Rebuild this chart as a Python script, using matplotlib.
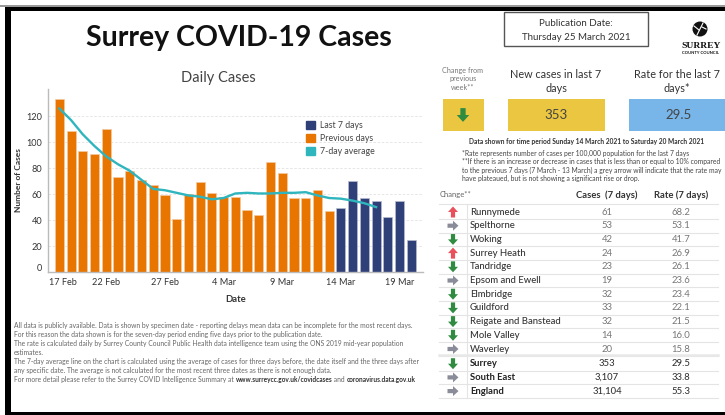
import matplotlib
matplotlib.use('Agg')
import matplotlib.pyplot as plt
import matplotlib.patches as mpatches
from matplotlib.transforms import ScaledTranslation

plt.rcParams['font.family'] = ['Lato', 'DejaVu Sans']

W, H = 725, 415

# daily cases, 18 Feb to 20 Mar
dates = ['18 Feb', '19 Feb', '20 Feb', '21 Feb', '22 Feb', '23 Feb', '24 Feb', '25 Feb', '26 Feb', '27 Feb', '28 Feb',
         '1 Mar', '2 Mar', '3 Mar', '4 Mar', '5 Mar', '6 Mar', '7 Mar', '8 Mar', '9 Mar', '10 Mar', '11 Mar', '12 Mar',
         '13 Mar', '14 Mar', '15 Mar', '16 Mar', '17 Mar', '18 Mar', '19 Mar', '20 Mar']
cases = [133, 109, 93, 91, 110, 73, 78, 71, 67, 59, 41, 60, 69, 61, 58, 58, 48, 44, 85, 76, 57, 57, 63, 47,
         49, 70, 57, 55, 42, 55, 25]
avg7 = [126, 117, 106, 97, 89, 83, 78, 71, 64, 63, 61, 59, 58, 56, 57, 60.5, 61, 60.5, 60.5, 61, 61, 61.5, 59, 57,
        56.5, 55, 53, 50]
last7 = 7
yticks = [0, 20, 40, 60, 80, 100, 120]

# table
areas = ['Runnymede', 'Spelthorne', 'Woking', 'Surrey Heath', 'Tandridge', 'Epsom and Ewell', 'Elmbridge',
         'Guildford', 'Reigate and Banstead', 'Mole Valley', 'Waverley']
area_change = ['up', 'same', 'down', 'up', 'down', 'same', 'down', 'down', 'down', 'down', 'same']
area_cases = ['61', '53', '42', '24', '23', '19', '32', '33', '32', '14', '20']
area_rate = ['68.2', '53.1', '41.7', '26.9', '26.1', '23.6', '23.4', '22.1', '21.5', '16.0', '15.8']
totals = ['Surrey', 'South East', 'England']
total_change = ['down', 'same', 'same']
total_cases = ['353', '3,107', '31,104']
total_rate = ['29.5', '33.8', '55.3']

notes = ['*Rate represents number of cases per 100,000 population for the last 7 days',
         '**If there is an increase or decrease in cases that is less than or equal to 10% compared',
         'to the previous 7 days (7 March - 13 March) a grey arrow will indicate that the rate may',
         'have plateaued, but is not showing a significant rise or drop.']
footer = ['All data is publicly available. Data is shown by specimen date - reporting delays mean data can be incomplete for the most recent days.',
          'For this reason the data shown is for the seven-day period ending five days prior to the publication date.',
          'The rate is calculated daily by Surrey County Council Public Health data intelligence team using the ONS 2019 mid-year population',
          'estimates.',
          'The 7-day average line on the chart is calculated using the average of cases for three days before, the date itself and the three days after',
          'any specific date. The average is not calculated for the most recent three dates as there is not enough data.']

ORANGE = '#E87500'
NAVY = '#2F3F78'
TEAL = '#2FB5BE'
YELLOW = '#EBC640'
BLUE = '#78B5E8'
GREEN = '#2E8B40'
RED = '#E8505B'
GREY = '#8A8D99'
arrow_col = {'up': RED, 'down': GREEN, 'same': GREY}

fig = plt.figure(figsize=(W/100, H/100), dpi=100, facecolor='white')

# page layer in pixel coordinates
pg = fig.add_axes([0, 0, 1, 1])
pg.set_xlim(0, W)
pg.set_ylim(H, 0)
pg.axis('off')


def box(x0, y0, x1, y1, fc, ec='none', lw=0):
    pg.add_patch(mpatches.Rectangle((x0, y0), x1-x0, y1-y0, fc=fc, ec=ec, lw=lw))


def txt(x, y, s, size=6, color='#333333', ha='left', **kw):
    pg.text(x, y, s, fontsize=size, color=color, ha=ha, va='center', **kw)


def arrow(x, y, kind, scale=1.0):
    dx, dy = {'up': (0, -1), 'down': (0, 1), 'same': (1, 0)}[kind]
    L = 11*scale
    pg.add_patch(mpatches.FancyArrow(x-dx*L/2, y-dy*L/2, dx*L, dy*L, width=4.2*scale, head_width=10*scale,
                                     head_length=5.5*scale, length_includes_head=True,
                                     fc=arrow_col[kind], ec='none'))


# frame
box(0, 5, W, 7, '#999999')
box(5, 7, W, 11, 'black')
box(5, 7, 11, H, 'black')
box(5, 412, W, H, 'black')

txt(239, 38, 'Surrey COVID-19 Cases', size=20.5, color='#111111', ha='center', fontweight='bold')

# publication box and logo
box(504.5, 12.5, 648, 46, 'white', ec='#555555', lw=1)
txt(576, 23, 'Publication Date:', size=7, ha='center')
txt(576, 38, 'Thursday 25 March 2021', size=7, ha='center')
pg.add_patch(mpatches.Circle((700, 29), 7.5, fc='#111111', ec='none'))
pg.plot([697, 703], [35, 23], color='white', lw=0.8)
pg.plot([694, 699], [26, 30], color='white', lw=0.8)
pg.plot([706, 702], [29, 27], color='white', lw=0.8)
txt(701, 46, 'SURREY', size=6.8, color='#111111', ha='center', fontweight='bold', family='Liberation Serif')
txt(701, 52.5, 'COUNTY COUNCIL', size=3, color='#111111', ha='center', fontweight='bold')

# headline boxes
for i, s in enumerate(['Change from', 'previous', 'week**']):
    txt(463, 70+8.7*i, s, size=5.2, color='#777777', ha='center')
txt(556, 75, 'New cases in last 7', size=7.8, ha='center')
txt(556, 89, 'days', size=7.8, ha='center')
txt(677, 75, 'Rate for the last 7', size=7.8, ha='center')
txt(677, 89, 'days*', size=7.8, ha='center')
box(443, 99, 484, 131, YELLOW)
box(508, 99, 605, 131, YELLOW)
box(629, 99, W, 131, BLUE)
arrow(463, 115, 'down', 1.25)
txt(556, 115, '353', size=9.5, color='#444444', ha='center')
txt(679, 115, '29.5', size=9.5, color='#444444', ha='center')

txt(587, 141, 'Data shown for time period Sunday 14 March 2021 to Saturday 20 March 2021', size=4.75, ha='center', fontweight='bold')
for i, s in enumerate(notes):
    txt(462, 153+8.6*i, s, size=4.9, color='#444444')

# table
txt(440, 194.5, 'Change**', size=5.5, color='#666666')
txt(607, 195, 'Cases  (7 days)', size=6.8, ha='center', fontweight='bold')
txt(681, 195, 'Rate (7 days)', size=6.8, ha='center', fontweight='bold')
pg.plot([467, 467], [204, 398], color='#E4E4E4', lw=0.8)
pg.plot([439, 718], [204, 204], color='#E4E4E4', lw=0.8)
ROW = 13.7
for i in range(len(areas)):
    y = 212 + ROW*i
    arrow(453, y, area_change[i])
    txt(470, y, areas[i], size=6.8, color='#333333', fontweight='medium')
    txt(607, y, area_cases[i], size=6.8, color='#777777', ha='center')
    txt(681, y, area_rate[i], size=6.8, color='#777777', ha='center')
    pg.plot([439, 718], [y+6.8, y+6.8], color='#E4E4E4', lw=0.8)
pg.plot([439, 718], [355, 355], color='#E8E8E8', lw=1.8)
for i in range(len(totals)):
    y = 363.7 + ROW*i
    arrow(453, y, total_change[i])
    txt(470, y, totals[i], size=6.8, color='#222222', fontweight='bold')
    txt(607, y, total_cases[i], size=6.8, color='#333333', ha='center', fontweight='medium')
    txt(681, y, total_rate[i], size=6.8, color='#333333', ha='center', fontweight='medium')
    pg.plot([439, 718], [y+6.8, y+6.8], color='#E4E4E4', lw=0.8)

# footer
FS = 4.85
for i, s in enumerate(footer):
    txt(14, 325+9*i, s, size=FS, color='#666666')
y = 325 + 9*len(footer)
t = pg.text(14, y, 'For more detail please refer to the Surrey COVID Intelligence Summary at ', fontsize=FS, color='#666666', va='center')
t = pg.annotate('www.surreycc.gov.uk/covidcases', xy=(1, 0.5), xycoords=t, va='center', fontsize=FS-0.15, color='#333333', fontweight='bold')
t = pg.annotate(' and ', xy=(1, 0.5), xycoords=t, va='center', fontsize=FS, color='#666666')
pg.annotate('coronavirus.data.gov.uk', xy=(1, 0.5), xycoords=t, va='center', fontsize=FS-0.15, color='#333333', fontweight='bold')

# daily cases chart
ax = fig.add_axes([48/W, 1-272/H, 375/W, 183/H])
ax.patch.set_alpha(0)
days = list(range(len(cases)))
split = len(cases) - last7
ax.bar(days[:split], cases[:split], width=0.78, color=ORANGE, edgecolor='#F3C9A0', linewidth=0.5, label='Previous days', zorder=2)
ax.bar(days[split:], cases[split:], width=0.78, color=NAVY, edgecolor='#B5BBD0', linewidth=0.5, label='Last 7 days', zorder=2)
ax.plot(range(len(avg7)), avg7, color=TEAL, lw=1.7, zorder=3)
ax.set_xlim(-0.97, 31)
ax.set_ylim(0, 141)
ax.grid(axis='y', color='#E2E2E2', lw=0.6, ls=(0, (3, 2)), zorder=0)
ax.set_yticks(yticks)
tick_idx = [0] + list(range(4, len(dates), 5))
ax.set_xticks(tick_idx)
ax.set_xticklabels(['17 Feb'] + [dates[i] for i in tick_idx[1:]])
ax.tick_params(length=0, labelsize=6.6, labelcolor='#333333', pad=4)
for s in ['top', 'right']:
    ax.spines[s].set_visible(False)
for s in ['left', 'bottom']:
    ax.spines[s].set_color('#BBBBBB')
    ax.spines[s].set_linewidth(1)
lab = ax.get_xticklabels()[0]
lab.set_transform(lab.get_transform() + ScaledTranslation(4/100, 0, fig.dpi_scale_trans))
lab = ax.get_yticklabels()[0]
lab.set_transform(lab.get_transform() + ScaledTranslation(0, 5/100, fig.dpi_scale_trans))
ax.set_xlabel('Date', fontsize=6.8, fontweight='bold', color='#333333', labelpad=6)
ax.set_ylabel('Number of Cases', fontsize=6, fontweight='bold', color='#333333')
ax.yaxis.set_label_coords(-26/375, 0.5)
ax.set_title('Daily Cases', fontsize=10.5, color='#444444', pad=5, x=0.453)

handles = [mpatches.Patch(color=NAVY, label='Last 7 days'), mpatches.Patch(color=ORANGE, label='Previous days'),
           mpatches.Patch(color=TEAL, label='7-day average')]
ax.legend(handles=handles, loc='upper left', bbox_to_anchor=(0.677, 0.85), frameon=False, fontsize=6.3,
          handlelength=1, handleheight=1, handletextpad=0.6, labelspacing=0.45, borderpad=0, labelcolor='#444444')

plt.savefig('out.png', dpi=100)
